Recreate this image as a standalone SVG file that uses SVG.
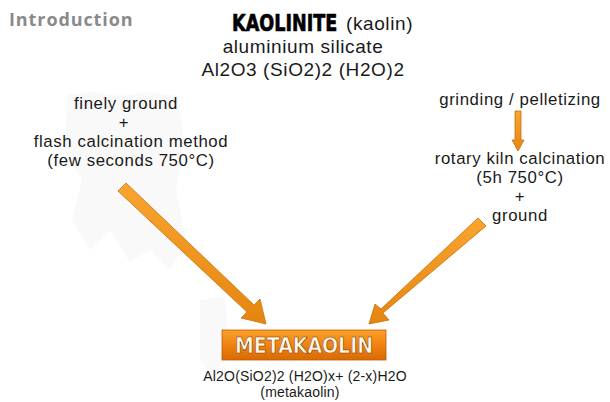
<svg xmlns="http://www.w3.org/2000/svg" width="610" height="402" viewBox="0 0 610 402">
<defs>
<style>
.t{font-family:"Liberation Sans","Open Sans",sans-serif;fill:#1a1a1a;text-anchor:middle}
.m{font-size:16.8px;letter-spacing:0.6px}
.h{font-size:19px;letter-spacing:0.6px}
.arrow{fill:url(#og);stroke:#c8700a;stroke-width:0.8}
</style>
<linearGradient id="og" x1="0" y1="0" x2="0" y2="1">
<stop offset="0" stop-color="#f9a531"/>
<stop offset="1" stop-color="#e5850f"/>
</linearGradient>
<linearGradient id="box" x1="0" y1="0" x2="0" y2="1">
<stop offset="0" stop-color="#f9a12a"/>
<stop offset="0.5" stop-color="#f08212"/>
<stop offset="1" stop-color="#d96a04"/>
</linearGradient>
</defs>
<rect width="610" height="402" fill="#ffffff"/>
<g id="bg" fill="#ececec" opacity="0.3">
<path d="M68,95 L92,92 L120,96 L150,92 L178,96 L184,140 L176,190 L186,240 L170,270 L150,250 L130,262 L110,230 L90,250 L72,220 L82,180 L64,150 Z"/>
<path d="M200,300 L225,296 L228,340 L215,380 L200,360 Z"/>
</g>
<g id="title">
<text x="9" y="26" style="font-family:'Open Sans','Liberation Sans',sans-serif;font-size:18px;font-weight:bold;fill:#8a8a8a;letter-spacing:0.9px">Introduction</text>
</g>
<g id="kaolinite">
<text transform="translate(232,31) scale(0.765,1)" x="0" y="0" style="font-family:'DejaVu Sans','Liberation Sans',sans-serif;font-size:23px;font-weight:900;fill:#000;stroke:#000;stroke-width:0.7">KAOLINITE</text>
<text x="346" y="30" style="font-family:'Liberation Sans','Open Sans',sans-serif;font-size:19px;letter-spacing:0.6px;fill:#1a1a1a">(kaolin)</text>
<text class="t h" x="303" y="53">aluminium silicate</text>
<text class="t h" x="303" y="76">Al2O3 (SiO2)2 (H2O)2</text>
</g>
<g id="flash">
<text class="t m" x="126" y="109">finely ground</text>
<text class="t m" x="124" y="128">+</text>
<text class="t m" x="131" y="147">flash calcination method</text>
<text class="t m" x="131" y="166">(few seconds 750°C)</text>
</g>
<g id="rotary">
<text class="t m" x="520" y="105">grinding / pelletizing</text>
<text class="t m" x="520" y="164">rotary kiln calcination</text>
<text class="t m" x="520" y="183">(5h 750°C)</text>
<text class="t m" x="520" y="202">+</text>
<text class="t m" x="520" y="221">ground</text>
</g>
<g id="connectors">
<path class="arrow" d="M515,111 L521,111 L521,140 L524,140 L518,151 L512,140 L515,140 Z"/>
<path class="arrow" d="M118,191 L126,183 L254,305 L260,299 L266,324 L241,318 L247,312 Z"/>
<path class="arrow" d="M478,218 L486,226 L383,313 L389,320 L369,324 L375,304 L381,309 Z"/>
</g>
<g id="metakaolin">
<rect x="222" y="330" width="164" height="30" fill="url(#box)" stroke="#c05a00" stroke-width="0.8"/>
<text x="304" y="353" textLength="138" lengthAdjust="spacingAndGlyphs" style="font-family:'DejaVu Sans','Liberation Sans',sans-serif;font-size:21px;font-weight:900;fill:#fff7e8;text-anchor:middle;stroke:#7a3a00;stroke-width:0.6">METAKAOLIN</text>
<text class="t" x="305" y="381" style="font-size:14px;letter-spacing:0.2px">Al2O(SiO2)2 (H2O)x+ (2-x)H2O</text>
<text class="t" x="300" y="397" style="font-size:14px;letter-spacing:0.2px">(metakaolin)</text>
</g>
</svg>
